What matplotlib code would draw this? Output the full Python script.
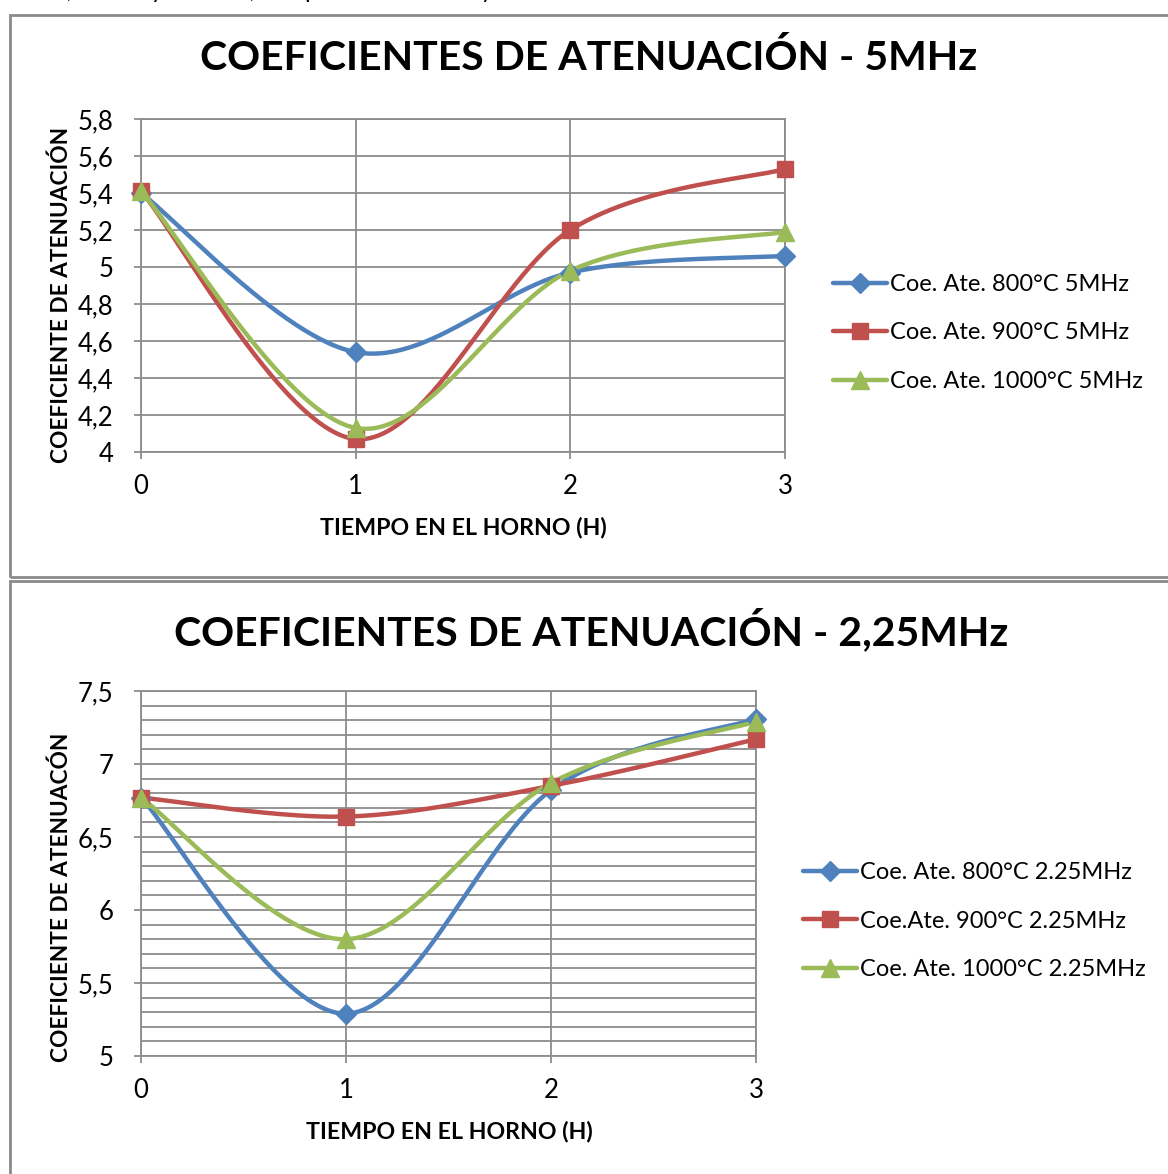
import numpy as np
import matplotlib
matplotlib.use("Agg")
import matplotlib.pyplot as plt
from matplotlib.patches import Rectangle
from matplotlib.lines import Line2D

plt.rcParams['font.family'] = ['Lato', 'DejaVu Sans']

# Tiempo en el horno (h)
tiempo = [0, 1, 2, 3]

# Coeficientes de atenuación a 5 MHz
ate_5_800 = [5.40, 4.54, 4.97, 5.06]
ate_5_900 = [5.41, 4.07, 5.20, 5.53]
ate_5_1000 = [5.41, 4.13, 4.98, 5.19]

# Coeficientes de atenuación a 2,25 MHz
ate_225_800 = [6.77, 5.29, 6.82, 7.31]
ate_225_900 = [6.77, 6.64, 6.85, 7.17]
ate_225_1000 = [6.77, 5.80, 6.87, 7.29]

labels_5 = ["Coe. Ate. 800°C 5MHz", "Coe. Ate. 900°C 5MHz", "Coe. Ate. 1000°C 5MHz"]
labels_225 = ["Coe. Ate. 800°C 2.25MHz", "Coe.Ate. 900°C 2.25MHz", "Coe. Ate. 1000°C 2.25MHz"]

ticks_5 = [4.0, 4.2, 4.4, 4.6, 4.8, 5.0, 5.2, 5.4, 5.6, 5.8]
ticks_225 = [5.0, 5.5, 6.0, 6.5, 7.0, 7.5]

colors = ["#4F81BD", "#C0504D", "#9BBB59"]
markers = ["D", "s", "^"]
msizes = [10, 12, 13]
GRID = "#8C8C8C"


def smooth(x, y, n=60):
    """Smoothed polyline through the points (cubic Bezier, Catmull-Rom controls)."""
    x = np.asarray(x, float)
    y = np.asarray(y, float)
    px = np.concatenate([[x[0]], x, [x[-1]]])
    py = np.concatenate([[y[0]], y, [y[-1]]])
    xs, ys = [], []
    t = np.linspace(0, 1, n)
    for i in range(1, len(px) - 2):
        p0 = np.array([px[i], py[i]])
        p3 = np.array([px[i + 1], py[i + 1]])
        p1 = p0 + (np.array([px[i + 1], py[i + 1]]) - np.array([px[i - 1], py[i - 1]])) / 6
        p2 = p3 - (np.array([px[i + 2], py[i + 2]]) - p0) / 6
        b = (((1 - t) ** 3)[:, None] * p0 + (3 * (1 - t) ** 2 * t)[:, None] * p1
             + (3 * (1 - t) * t ** 2)[:, None] * p2 + (t ** 3)[:, None] * p3)
        xs.append(b[:, 0])
        ys.append(b[:, 1])
    return np.concatenate(xs), np.concatenate(ys)


def fmt(v):
    s = ("%.1f" % v).replace(".", ",")
    return s[:-2] if s.endswith(",0") else s


W, H = 1168, 1174
fig = plt.figure(figsize=(W / 100, H / 100), dpi=100)


def fx(px):
    return px / W


def fy(py):
    return 1 - py / H


# Chart frames
for (y0, y1) in [(15, 577), (581, 1180)]:
    fig.patches.append(Rectangle((fx(10), fy(y1)), fx(1200) - fx(10), fy(y0) - fy(y1),
                                 transform=fig.transFigure, fill=False,
                                 edgecolor="#8A8A8A", linewidth=2.0))

# Caption line of the page above the first chart (only its lower edge falls on the page)
fig.text(fx(0), fy(-9), "800°C, 900°C y 1000°C, comparados a 5MHz y 2.25MHz",
         fontsize=17, ha="left", va="center", color="black")


def make_chart(rect, series, labels, yticks, ylim, minor, title, title_xy, ylabel,
               ylabel_xy, xlabel_xy, legend_xy):
    ax = fig.add_axes(rect)
    ax.set_xlim(0, 3)
    ax.set_ylim(*ylim)
    ax.set_xticks(tiempo)
    ax.set_xticklabels([str(t) for t in tiempo])
    ax.set_yticks(yticks)
    ax.set_yticklabels([fmt(v) for v in yticks])
    if minor:
        ax.set_yticks(np.arange(ylim[0], ylim[1] + 1e-9, minor), minor=True)
        ax.grid(True, axis="y", which="minor", color=GRID, linewidth=1.3)
        ax.tick_params(axis="y", which="minor", length=0)
    ax.grid(True, axis="both", which="major", color=GRID, linewidth=1.3)
    ax.set_axisbelow(True)
    for s in ax.spines.values():
        s.set_color(GRID)
        s.set_linewidth(1.3)
    ax.tick_params(axis="both", which="major", labelsize=18.5, color=GRID, length=5,
                   width=1.3, direction="out")
    ax.tick_params(axis="x", pad=11)
    ax.tick_params(axis="y", pad=15)
    handles = []
    for vals, c, m, ms, lab in zip(series, colors, markers, msizes, labels):
        sx, sy = smooth(tiempo, vals)
        ax.plot(sx, sy, color=c, linewidth=3.2, solid_capstyle="round", clip_on=False, zorder=3)
        ax.plot(tiempo, vals, linestyle="none", marker=m, markersize=ms, color=c,
                markeredgecolor=c, clip_on=False, zorder=4)
        handles.append(Line2D([], [], color=c, linewidth=3.2, marker=m, markersize=ms,
                              markeredgecolor=c, label=lab, solid_capstyle="round"))
    fig.text(fx(title_xy[0]), fy(title_xy[1]), title, fontsize=29.5, fontweight="bold",
             ha="center", va="center")
    fig.text(fx(ylabel_xy[0]), fy(ylabel_xy[1]), ylabel, fontsize=16.3, fontweight="bold",
             ha="center", va="center", rotation=90)
    fig.text(fx(xlabel_xy[0]), fy(xlabel_xy[1]), "TIEMPO EN EL HORNO (H)", fontsize=16.7,
             fontweight="bold", ha="center", va="center")
    fig.legend(handles=handles, loc="center left",
               bbox_to_anchor=(fx(legend_xy[0]), fy(legend_xy[1])),
               frameon=False, fontsize=17, handlelength=2.3, handletextpad=0.12,
               labelspacing=1.17, borderaxespad=0, borderpad=0)
    return ax


make_chart([fx(141), fy(452), fx(785) - fx(141), fy(119) - fy(452)],
           [ate_5_800, ate_5_900, ate_5_1000], labels_5, ticks_5, (4.0, 5.8), None,
           "COEFICIENTES DE ATENUACIÓN - 5MHz", (589, 58),
           "COEFICIENTE DE ATENUACIÓN", (61, 295), (463, 527), (833, 333))

make_chart([fx(141), fy(1056), fx(756) - fx(141), fy(691) - fy(1056)],
           [ate_225_800, ate_225_900, ate_225_1000], labels_225, ticks_225, (5.0, 7.5), 0.1,
           "COEFICIENTES DE ATENUACIÓN - 2,25MHz", (591, 630),
           "COEFICIENTE DE ATENUACÓN", (61, 897), (449, 1131), (803, 921))

fig.savefig("out.png", dpi=100)
